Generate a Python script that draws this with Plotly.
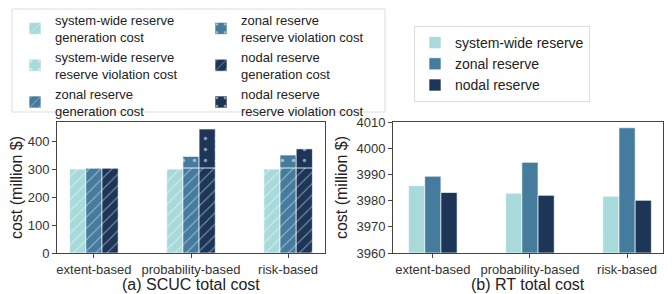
import plotly.graph_objects as go

categories = ["extent-based", "probability-based", "risk-based"]
reserve_names = ["system-wide reserve", "zonal reserve", "nodal reserve"]
colors = ["#a8dadc", "#457b9d", "#1d3557"]

# SCUC total cost (million $): generation cost and reserve violation cost
scuc_gen = {
    "system-wide reserve": [301, 301, 301],
    "zonal reserve": [304, 304, 304],
    "nodal reserve": [304, 304, 304],
}
scuc_viol = {
    "system-wide reserve": [0, 0, 0],
    "zonal reserve": [0, 41, 46],
    "nodal reserve": [0, 139, 68],
}
# RT total cost (million $)
rt_cost = {
    "system-wide reserve": [3985.7, 3982.8, 3981.7],
    "zonal reserve": [3989.3, 3994.6, 4007.8],
    "nodal reserve": [3983.1, 3982.0, 3980.1],
}

FONT = "Liberation Sans, Arial, sans-serif"
W, H = 672, 294
OFF = 8  # page body margin offset


def px(x):
    return (x - OFF) / W


def py(y):
    return 1 - (y - OFF) / H


fig = go.Figure()

# left legend: column 1 -> "legend", column 2 -> "legend3"
legend_col = {("system-wide reserve", "gen"): ("legend", 1),
              ("system-wide reserve", "viol"): ("legend", 2),
              ("zonal reserve", "gen"): ("legend", 3),
              ("zonal reserve", "viol"): ("legend3", 1),
              ("nodal reserve", "gen"): ("legend3", 2),
              ("nodal reserve", "viol"): ("legend3", 3)}

bar_line = dict(color="rgba(255,255,255,0.8)", width=0.8)
for name, col in zip(reserve_names, colors):
    gen = scuc_gen[name]
    viol = scuc_viol[name]
    short = name.replace(" reserve", "")
    lg, rk = legend_col[(name, "gen")]
    fig.add_trace(go.Bar(
        x=categories, y=gen, name=f"{name}<br>generation cost",
        offsetgroup=short, xaxis="x", yaxis="y",
        marker=dict(color=col, line=bar_line,
                    pattern=dict(shape="/", fgcolor="white", size=8, solidity=0.12)),
        legend=lg, legendrank=rk,
    ))
    lg, rk = legend_col[(name, "viol")]
    fig.add_trace(go.Bar(
        x=categories, y=viol, base=gen, name=f"{name}<br>reserve violation cost",
        offsetgroup=short, xaxis="x", yaxis="y",
        marker=dict(color=col, line=bar_line,
                    pattern=dict(shape=".", fgcolor="white", size=11, solidity=0.08)),
        legend=lg, legendrank=rk,
    ))

for name, col in zip(reserve_names, colors):
    short = name.replace(" reserve", "")
    fig.add_trace(go.Bar(
        x=categories, y=[v - 3960 for v in rt_cost[name]], base=3960, name=name,
        offsetgroup=short, xaxis="x2", yaxis="y2",
        marker=dict(color=col, line=bar_line),
        legend="legend2",
    ))

axis_common = dict(showline=True, linecolor="#444", linewidth=1, mirror=True,
                   ticks="outside", ticklen=4, tickcolor="#444", showgrid=False,
                   zeroline=False, automargin=False,
                   tickfont=dict(size=13, color="#333", family=FONT))

leg_common = dict(xanchor="left", yanchor="top", borderwidth=0,
                  bgcolor="rgba(0,0,0,0)", font=dict(size=13, color="#222"),
                  traceorder="normal", itemwidth=30)

fig.update_layout(
    width=W, height=H,
    margin=dict(l=0, r=0, t=0, b=0, autoexpand=False),
    paper_bgcolor="white", plot_bgcolor="white",
    barmode="group", bargap=0.5, bargroupgap=0,
    font=dict(family=FONT, size=13, color="#222"),
    xaxis=dict(domain=[px(57), px(325)], anchor="y", range=[-0.38, 2.38], **axis_common),
    yaxis=dict(domain=[py(253), py(122)], anchor="x", range=[0, 468],
               dtick=100, title=dict(text="cost (million $)", font=dict(size=16), standoff=4),
               **axis_common),
    xaxis2=dict(domain=[px(393), px(663)], anchor="y2", range=[-0.41, 2.37], **axis_common),
    yaxis2=dict(domain=[py(253), py(122)], anchor="x2", range=[3960, 4010],
                dtick=10, title=dict(text="cost (million $)", font=dict(size=16), standoff=4),
                **axis_common),
    legend=dict(x=px(15), y=py(5), **leg_common),
    legend3=dict(x=px(201), y=py(5), **leg_common),
    legend2=dict(x=px(414), y=py(26), xanchor="left", yanchor="top",
                 bordercolor="#ddd", borderwidth=1, bgcolor="white",
                 font=dict(size=14, color="#222"), traceorder="normal"),
    shapes=[dict(type="rect", xref="paper", yref="paper",
                 x0=px(12), x1=px(385), y0=py(112), y1=py(9),
                 line=dict(color="#ddd", width=1), fillcolor="rgba(0,0,0,0)")],
    annotations=[
        dict(text="(a) SCUC total cost", x=px(191), y=py(284), xref="paper", yref="paper",
             showarrow=False, font=dict(size=16, color="#222"), xanchor="center", yanchor="middle"),
        dict(text="(b) RT total cost", x=px(528), y=py(284), xref="paper", yref="paper",
             showarrow=False, font=dict(size=16, color="#222"), xanchor="center", yanchor="middle"),
    ],
)

fig.write_html("out.html")
